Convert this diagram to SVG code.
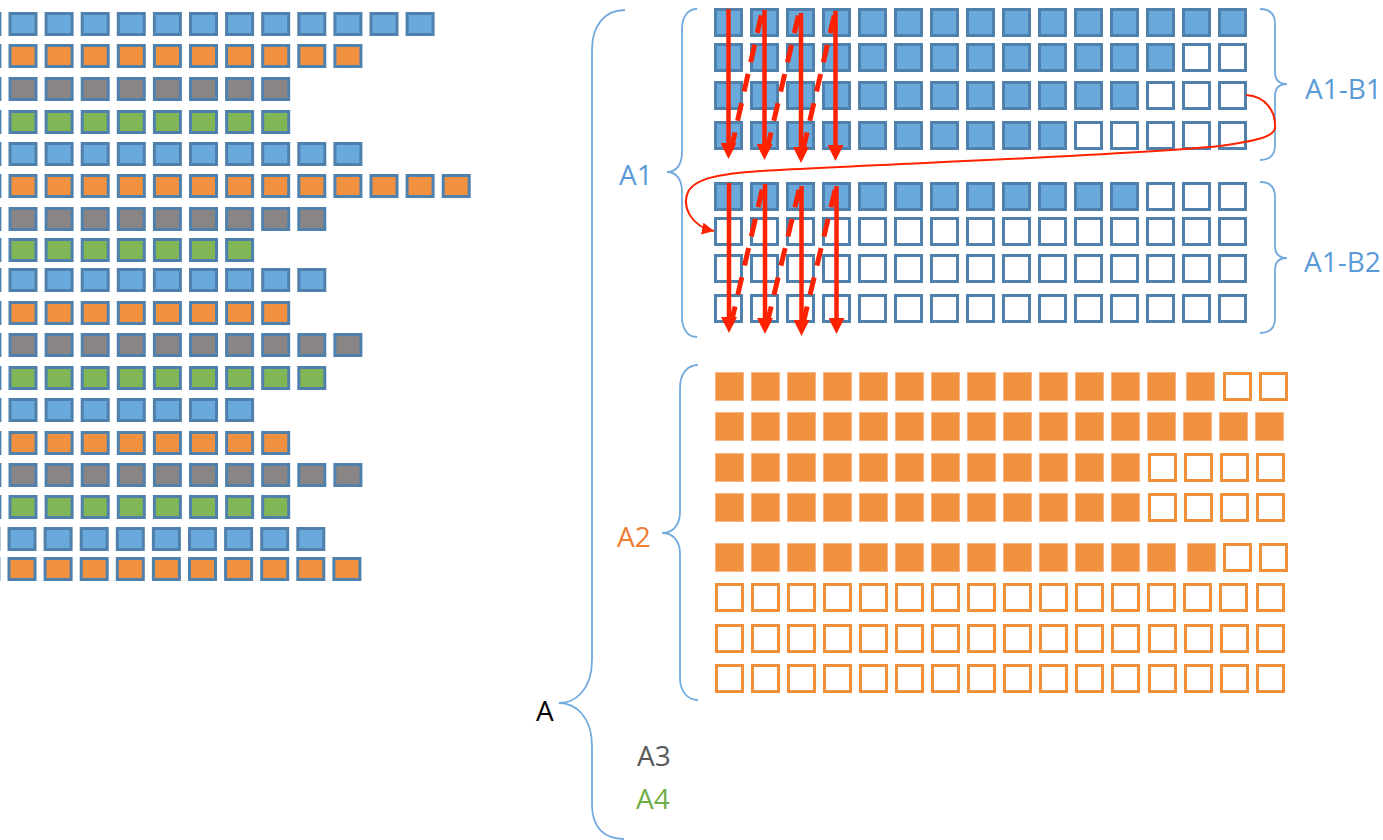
<svg xmlns="http://www.w3.org/2000/svg" xmlns:xlink="http://www.w3.org/1999/xlink" width="1383" height="840" viewBox="0 0 1383 840">
  <style>
    .lbl { font-family: "Open Sans", "Liberation Sans", sans-serif; font-size: 28px; }
    .brace { fill: none; stroke: #72aade; stroke-width: 1.8; }
    .flow { fill: none; stroke: #ff2200; stroke-width: 4.5; }
    .flow-dash { fill: none; stroke: #ff2200; stroke-width: 5; stroke-dasharray: 18 12; }
    .jump { fill: none; stroke: #ff2200; stroke-width: 2; }
  </style>
  <defs>
    <!-- left list cell (outer 29x24) -->
    <rect id="lc" x="1.5" y="1.5" width="26" height="21" stroke="#4f81ac" stroke-width="3"/>
    <!-- blue block cell (outer 29x29); fill comes from the parent group -->
    <rect id="bc" x="1.5" y="1.5" width="26" height="26" stroke="#4f81ac" stroke-width="3"/>
    <!-- orange cells -->
    <rect id="of" x="0.5" y="0.5" width="28" height="28" fill="#f29241" stroke="#f6b687" stroke-width="1"/>
    <rect id="oe" x="1.5" y="1.5" width="26" height="26" fill="#fff" stroke="#f0903a" stroke-width="3"/>
    <marker id="head" viewBox="0 0 16 16" refX="4" refY="8" markerWidth="16" markerHeight="16" orient="auto" markerUnits="userSpaceOnUse">
      <path d="M0,0 L16,8 L0,16 z" fill="#ff2200"/>
    </marker>
    <marker id="head-s" viewBox="0 0 12 12" refX="12" refY="6" markerWidth="12" markerHeight="12" orient="auto" markerUnits="userSpaceOnUse">
      <path d="M0,0 L12,6 L0,12 z" fill="#ff2200"/>
    </marker>
  </defs>
  <rect width="1383" height="840" fill="#fff"/>

  <!-- left list: 18 rows cycling blue / orange / gray / green -->
  <g id="left-list">
    <g transform="translate(0,12)" fill="#69a9dc">
      <use href="#lc" x="-27.6"/><use href="#lc" x="8.5"/><use href="#lc" x="44.6"/><use href="#lc" x="80.7"/><use href="#lc" x="116.8"/><use href="#lc" x="152.9"/><use href="#lc" x="189"/><use href="#lc" x="225.1"/><use href="#lc" x="261.2"/><use href="#lc" x="297.3"/><use href="#lc" x="333.4"/><use href="#lc" x="369.5"/><use href="#lc" x="405.6"/>
    </g>
    <g transform="translate(0,44)" fill="#f29241">
      <use href="#lc" x="-27.6"/><use href="#lc" x="8.5"/><use href="#lc" x="44.6"/><use href="#lc" x="80.7"/><use href="#lc" x="116.8"/><use href="#lc" x="152.9"/><use href="#lc" x="189"/><use href="#lc" x="225.1"/><use href="#lc" x="261.2"/><use href="#lc" x="297.3"/><use href="#lc" x="333.4"/>
    </g>
    <g transform="translate(0,77)" fill="#898584">
      <use href="#lc" x="-27.6"/><use href="#lc" x="8.5"/><use href="#lc" x="44.6"/><use href="#lc" x="80.7"/><use href="#lc" x="116.8"/><use href="#lc" x="152.9"/><use href="#lc" x="189"/><use href="#lc" x="225.1"/><use href="#lc" x="261.2"/>
    </g>
    <g transform="translate(0,110)" fill="#80b656">
      <use href="#lc" x="-27.6"/><use href="#lc" x="8.5"/><use href="#lc" x="44.6"/><use href="#lc" x="80.7"/><use href="#lc" x="116.8"/><use href="#lc" x="152.9"/><use href="#lc" x="189"/><use href="#lc" x="225.1"/><use href="#lc" x="261.2"/>
    </g>
    <g transform="translate(0,142)" fill="#69a9dc">
      <use href="#lc" x="-27.6"/><use href="#lc" x="8.5"/><use href="#lc" x="44.6"/><use href="#lc" x="80.7"/><use href="#lc" x="116.8"/><use href="#lc" x="152.9"/><use href="#lc" x="189"/><use href="#lc" x="225.1"/><use href="#lc" x="261.2"/><use href="#lc" x="297.3"/><use href="#lc" x="333.4"/>
    </g>
    <g transform="translate(0,174)" fill="#f29241">
      <use href="#lc" x="-27.6"/><use href="#lc" x="8.5"/><use href="#lc" x="44.6"/><use href="#lc" x="80.7"/><use href="#lc" x="116.8"/><use href="#lc" x="152.9"/><use href="#lc" x="189"/><use href="#lc" x="225.1"/><use href="#lc" x="261.2"/><use href="#lc" x="297.3"/><use href="#lc" x="333.4"/><use href="#lc" x="369.5"/><use href="#lc" x="405.6"/><use href="#lc" x="441.7"/>
    </g>
    <g transform="translate(0,207)" fill="#898584">
      <use href="#lc" x="-27.6"/><use href="#lc" x="8.5"/><use href="#lc" x="44.6"/><use href="#lc" x="80.7"/><use href="#lc" x="116.8"/><use href="#lc" x="152.9"/><use href="#lc" x="189"/><use href="#lc" x="225.1"/><use href="#lc" x="261.2"/><use href="#lc" x="297.3"/>
    </g>
    <g transform="translate(0,238)" fill="#80b656">
      <use href="#lc" x="-27.6"/><use href="#lc" x="8.5"/><use href="#lc" x="44.6"/><use href="#lc" x="80.7"/><use href="#lc" x="116.8"/><use href="#lc" x="152.9"/><use href="#lc" x="189"/><use href="#lc" x="225.1"/>
    </g>
    <g transform="translate(0,268)" fill="#69a9dc">
      <use href="#lc" x="-27.6"/><use href="#lc" x="8.5"/><use href="#lc" x="44.6"/><use href="#lc" x="80.7"/><use href="#lc" x="116.8"/><use href="#lc" x="152.9"/><use href="#lc" x="189"/><use href="#lc" x="225.1"/><use href="#lc" x="261.2"/><use href="#lc" x="297.3"/>
    </g>
    <g transform="translate(0,301)" fill="#f29241">
      <use href="#lc" x="-27.6"/><use href="#lc" x="8.5"/><use href="#lc" x="44.6"/><use href="#lc" x="80.7"/><use href="#lc" x="116.8"/><use href="#lc" x="152.9"/><use href="#lc" x="189"/><use href="#lc" x="225.1"/><use href="#lc" x="261.2"/>
    </g>
    <g transform="translate(0,333)" fill="#898584">
      <use href="#lc" x="-27.6"/><use href="#lc" x="8.5"/><use href="#lc" x="44.6"/><use href="#lc" x="80.7"/><use href="#lc" x="116.8"/><use href="#lc" x="152.9"/><use href="#lc" x="189"/><use href="#lc" x="225.1"/><use href="#lc" x="261.2"/><use href="#lc" x="297.3"/><use href="#lc" x="333.4"/>
    </g>
    <g transform="translate(0,366)" fill="#80b656">
      <use href="#lc" x="-27.6"/><use href="#lc" x="8.5"/><use href="#lc" x="44.6"/><use href="#lc" x="80.7"/><use href="#lc" x="116.8"/><use href="#lc" x="152.9"/><use href="#lc" x="189"/><use href="#lc" x="225.1"/><use href="#lc" x="261.2"/><use href="#lc" x="297.3"/>
    </g>
    <g transform="translate(0,398)" fill="#69a9dc">
      <use href="#lc" x="-27.6"/><use href="#lc" x="8.5"/><use href="#lc" x="44.6"/><use href="#lc" x="80.7"/><use href="#lc" x="116.8"/><use href="#lc" x="152.9"/><use href="#lc" x="189"/><use href="#lc" x="225.1"/>
    </g>
    <g transform="translate(0,431)" fill="#f29241">
      <use href="#lc" x="-27.6"/><use href="#lc" x="8.5"/><use href="#lc" x="44.6"/><use href="#lc" x="80.7"/><use href="#lc" x="116.8"/><use href="#lc" x="152.9"/><use href="#lc" x="189"/><use href="#lc" x="225.1"/><use href="#lc" x="261.2"/>
    </g>
    <g transform="translate(0,463)" fill="#898584">
      <use href="#lc" x="-27.6"/><use href="#lc" x="8.5"/><use href="#lc" x="44.6"/><use href="#lc" x="80.7"/><use href="#lc" x="116.8"/><use href="#lc" x="152.9"/><use href="#lc" x="189"/><use href="#lc" x="225.1"/><use href="#lc" x="261.2"/><use href="#lc" x="297.3"/><use href="#lc" x="333.4"/>
    </g>
    <g transform="translate(0,495)" fill="#80b656">
      <use href="#lc" x="-27.6"/><use href="#lc" x="8.5"/><use href="#lc" x="44.6"/><use href="#lc" x="80.7"/><use href="#lc" x="116.8"/><use href="#lc" x="152.9"/><use href="#lc" x="189"/><use href="#lc" x="225.1"/><use href="#lc" x="261.2"/>
    </g>
    <g transform="translate(-1,527)" fill="#69a9dc">
      <use href="#lc" x="-27.6"/><use href="#lc" x="8.5"/><use href="#lc" x="44.6"/><use href="#lc" x="80.7"/><use href="#lc" x="116.8"/><use href="#lc" x="152.9"/><use href="#lc" x="189"/><use href="#lc" x="225.1"/><use href="#lc" x="261.2"/><use href="#lc" x="297.3"/>
    </g>
    <g transform="translate(-1,557)" fill="#f29241">
      <use href="#lc" x="-27.6"/><use href="#lc" x="8.5"/><use href="#lc" x="44.6"/><use href="#lc" x="80.7"/><use href="#lc" x="116.8"/><use href="#lc" x="152.9"/><use href="#lc" x="189"/><use href="#lc" x="225.1"/><use href="#lc" x="261.2"/><use href="#lc" x="297.3"/><use href="#lc" x="333.4"/>
    </g>
  </g>

  <!-- block A1-B1 -->
  <g id="a1-b1">
    <g fill="#69a9dc">
      <g transform="translate(0,8)">
        <use href="#bc" x="714"/><use href="#bc" x="750"/><use href="#bc" x="786"/><use href="#bc" x="822"/><use href="#bc" x="858"/><use href="#bc" x="894"/><use href="#bc" x="930"/><use href="#bc" x="966"/><use href="#bc" x="1002"/><use href="#bc" x="1038"/><use href="#bc" x="1074"/><use href="#bc" x="1110"/><use href="#bc" x="1146"/><use href="#bc" x="1182"/><use href="#bc" x="1218"/>
      </g>
      <g transform="translate(0,43)">
        <use href="#bc" x="714"/><use href="#bc" x="750"/><use href="#bc" x="786"/><use href="#bc" x="822"/><use href="#bc" x="858"/><use href="#bc" x="894"/><use href="#bc" x="930"/><use href="#bc" x="966"/><use href="#bc" x="1002"/><use href="#bc" x="1038"/><use href="#bc" x="1074"/><use href="#bc" x="1110"/><use href="#bc" x="1146"/>
      </g>
      <g transform="translate(0,81)">
        <use href="#bc" x="714"/><use href="#bc" x="750"/><use href="#bc" x="786"/><use href="#bc" x="822"/><use href="#bc" x="858"/><use href="#bc" x="894"/><use href="#bc" x="930"/><use href="#bc" x="966"/><use href="#bc" x="1002"/><use href="#bc" x="1038"/><use href="#bc" x="1074"/><use href="#bc" x="1110"/>
      </g>
      <g transform="translate(0,121)">
        <use href="#bc" x="714"/><use href="#bc" x="750"/><use href="#bc" x="786"/><use href="#bc" x="822"/><use href="#bc" x="858"/><use href="#bc" x="894"/><use href="#bc" x="930"/><use href="#bc" x="966"/><use href="#bc" x="1002"/><use href="#bc" x="1038"/>
      </g>
    </g>
    <g fill="#fff">
      <use href="#bc" x="1182" y="43"/><use href="#bc" x="1218" y="43"/>
      <use href="#bc" x="1146" y="81"/><use href="#bc" x="1182" y="81"/><use href="#bc" x="1218" y="81"/>
      <use href="#bc" x="1074" y="121"/><use href="#bc" x="1110" y="121"/><use href="#bc" x="1146" y="121"/><use href="#bc" x="1182" y="121"/><use href="#bc" x="1218" y="121"/>
    </g>
  </g>

  <!-- block A1-B2 -->
  <g id="a1-b2">
    <g fill="#69a9dc" transform="translate(0,182)">
      <use href="#bc" x="714"/><use href="#bc" x="750"/><use href="#bc" x="786"/><use href="#bc" x="822"/><use href="#bc" x="858"/><use href="#bc" x="894"/><use href="#bc" x="930"/><use href="#bc" x="966"/><use href="#bc" x="1002"/><use href="#bc" x="1038"/><use href="#bc" x="1074"/><use href="#bc" x="1110"/>
    </g>
    <g fill="#fff">
      <g transform="translate(0,182)">
        <use href="#bc" x="1146"/><use href="#bc" x="1182"/><use href="#bc" x="1218"/>
      </g>
      <g transform="translate(0,217)">
        <use href="#bc" x="714"/><use href="#bc" x="750"/><use href="#bc" x="786"/><use href="#bc" x="822"/><use href="#bc" x="858"/><use href="#bc" x="894"/><use href="#bc" x="930"/><use href="#bc" x="966"/><use href="#bc" x="1002"/><use href="#bc" x="1038"/><use href="#bc" x="1074"/><use href="#bc" x="1110"/><use href="#bc" x="1146"/><use href="#bc" x="1182"/><use href="#bc" x="1218"/>
      </g>
      <g transform="translate(0,254)">
        <use href="#bc" x="714"/><use href="#bc" x="750"/><use href="#bc" x="786"/><use href="#bc" x="822"/><use href="#bc" x="858"/><use href="#bc" x="894"/><use href="#bc" x="930"/><use href="#bc" x="966"/><use href="#bc" x="1002"/><use href="#bc" x="1038"/><use href="#bc" x="1074"/><use href="#bc" x="1110"/><use href="#bc" x="1146"/><use href="#bc" x="1182"/><use href="#bc" x="1218"/>
      </g>
      <g transform="translate(0,294)">
        <use href="#bc" x="714"/><use href="#bc" x="750"/><use href="#bc" x="786"/><use href="#bc" x="822"/><use href="#bc" x="858"/><use href="#bc" x="894"/><use href="#bc" x="930"/><use href="#bc" x="966"/><use href="#bc" x="1002"/><use href="#bc" x="1038"/><use href="#bc" x="1074"/><use href="#bc" x="1110"/><use href="#bc" x="1146"/><use href="#bc" x="1182"/><use href="#bc" x="1218"/>
      </g>
    </g>
  </g>

  <!-- block A2 -->
  <g id="a2">
    <g transform="translate(0,372)">
      <use href="#of" x="715"/><use href="#of" x="751"/><use href="#of" x="787"/><use href="#of" x="823"/><use href="#of" x="859"/><use href="#of" x="895"/><use href="#of" x="931"/><use href="#of" x="967"/><use href="#of" x="1003"/><use href="#of" x="1039"/><use href="#of" x="1075"/><use href="#of" x="1111"/><use href="#of" x="1147"/><use href="#of" x="1186"/><use href="#oe" x="1223"/><use href="#oe" x="1259"/>
    </g>
    <g transform="translate(0,412)">
      <use href="#of" x="715"/><use href="#of" x="751"/><use href="#of" x="787"/><use href="#of" x="823"/><use href="#of" x="859"/><use href="#of" x="895"/><use href="#of" x="931"/><use href="#of" x="967"/><use href="#of" x="1003"/><use href="#of" x="1039"/><use href="#of" x="1075"/><use href="#of" x="1111"/><use href="#of" x="1147"/><use href="#of" x="1183"/><use href="#of" x="1219"/><use href="#of" x="1255"/>
    </g>
    <g transform="translate(0,453)">
      <use href="#of" x="715"/><use href="#of" x="751"/><use href="#of" x="787"/><use href="#of" x="823"/><use href="#of" x="859"/><use href="#of" x="895"/><use href="#of" x="931"/><use href="#of" x="967"/><use href="#of" x="1003"/><use href="#of" x="1039"/><use href="#of" x="1075"/><use href="#of" x="1111"/><use href="#oe" x="1148"/><use href="#oe" x="1184"/><use href="#oe" x="1220"/><use href="#oe" x="1256"/>
    </g>
    <g transform="translate(0,493)">
      <use href="#of" x="715"/><use href="#of" x="751"/><use href="#of" x="787"/><use href="#of" x="823"/><use href="#of" x="859"/><use href="#of" x="895"/><use href="#of" x="931"/><use href="#of" x="967"/><use href="#of" x="1003"/><use href="#of" x="1039"/><use href="#of" x="1075"/><use href="#of" x="1111"/><use href="#oe" x="1148"/><use href="#oe" x="1184"/><use href="#oe" x="1220"/><use href="#oe" x="1256"/>
    </g>
    <g transform="translate(0,543)">
      <use href="#of" x="715"/><use href="#of" x="751"/><use href="#of" x="787"/><use href="#of" x="823"/><use href="#of" x="859"/><use href="#of" x="895"/><use href="#of" x="931"/><use href="#of" x="967"/><use href="#of" x="1003"/><use href="#of" x="1039"/><use href="#of" x="1075"/><use href="#of" x="1111"/><use href="#of" x="1147"/><use href="#of" x="1187"/><use href="#oe" x="1223"/><use href="#oe" x="1259"/>
    </g>
    <g transform="translate(0,583)">
      <use href="#oe" x="715"/><use href="#oe" x="751"/><use href="#oe" x="787"/><use href="#oe" x="823"/><use href="#oe" x="859"/><use href="#oe" x="895"/><use href="#oe" x="931"/><use href="#oe" x="967"/><use href="#oe" x="1003"/><use href="#oe" x="1039"/><use href="#oe" x="1075"/><use href="#oe" x="1111"/><use href="#oe" x="1147"/><use href="#oe" x="1183"/><use href="#oe" x="1219"/><use href="#oe" x="1256"/>
    </g>
    <g transform="translate(0,624)">
      <use href="#oe" x="715"/><use href="#oe" x="751"/><use href="#oe" x="787"/><use href="#oe" x="823"/><use href="#oe" x="859"/><use href="#oe" x="895"/><use href="#oe" x="931"/><use href="#oe" x="967"/><use href="#oe" x="1003"/><use href="#oe" x="1039"/><use href="#oe" x="1075"/><use href="#oe" x="1111"/><use href="#oe" x="1148"/><use href="#oe" x="1184"/><use href="#oe" x="1220"/><use href="#oe" x="1256"/>
    </g>
    <g transform="translate(0,664)">
      <use href="#oe" x="715"/><use href="#oe" x="751"/><use href="#oe" x="787"/><use href="#oe" x="823"/><use href="#oe" x="859"/><use href="#oe" x="895"/><use href="#oe" x="931"/><use href="#oe" x="967"/><use href="#oe" x="1003"/><use href="#oe" x="1039"/><use href="#oe" x="1075"/><use href="#oe" x="1111"/><use href="#oe" x="1148"/><use href="#oe" x="1184"/><use href="#oe" x="1220"/><use href="#oe" x="1256"/>
    </g>
  </g>

  <!-- braces -->
  <g id="braces" class="brace">
    <path id="brace-a" d="M625,10 C605,10 592,25 592,50 L592,660 C592,690 575,703 559,703 C575,703 592,716 592,746 L592,805 C592,828 605,839 624,839"/>
    <path id="brace-a1" d="M697,9 C688,9 682,16 682,30 L682,152 C682,165 676,172 667,172 C676,172 682,179 682,192 L682,316 C682,330 688,337 697,337"/>
    <path id="brace-a2" d="M698,365 C688,365 680,373 680,388 L680,512 C680,525 673,533 662,533 C673,533 680,541 680,554 L680,678 C680,692 688,700 698,700"/>
    <path id="brace-b1" d="M1260,9 C1270,9 1275,14 1275,24 L1275,72 C1275,80 1279,84 1287,84 C1279,84 1275,88 1275,96 L1275,145 C1275,155 1270,160 1260,160"/>
    <path id="brace-b2" d="M1260,182 C1270,182 1275,187 1275,197 L1275,246 C1275,254 1279,258 1287,258 C1279,258 1275,262 1275,270 L1275,318 C1275,328 1270,333 1260,333"/>
  </g>

  <!-- labels -->
  <g id="labels" class="lbl">
    <text x="536" y="721" fill="#000">A</text>
    <text x="619" y="185" fill="#5b9bd5">A1</text>
    <text x="617" y="547" fill="#ed7d31">A2</text>
    <text x="637" y="766" fill="#595959">A3</text>
    <text x="636" y="809" fill="#70ad47">A4</text>
    <text x="1305" y="99" fill="#5b9bd5">A1-B1</text>
    <text x="1304" y="272" fill="#5b9bd5">A1-B2</text>
  </g>

  <!-- traversal order connectors -->
  <g id="connectors">
    <line class="flow" x1="728.5" y1="9" x2="728.5" y2="147" marker-end="url(#head)"/>
    <line class="flow" x1="764.5" y1="10" x2="764.5" y2="148" marker-end="url(#head)"/>
    <line class="flow" x1="801" y1="13" x2="801" y2="151" marker-end="url(#head)"/>
    <line class="flow" x1="835.5" y1="11" x2="835.5" y2="149" marker-end="url(#head)"/>
    <line class="flow-dash" x1="731" y1="150" x2="762" y2="12"/>
    <line class="flow-dash" x1="767" y1="150" x2="799" y2="13"/>
    <line class="flow-dash" x1="803" y1="150" x2="835" y2="12"/>

    <line class="flow" x1="729" y1="183" x2="729" y2="321" marker-end="url(#head)"/>
    <line class="flow" x1="765" y1="184" x2="765" y2="322" marker-end="url(#head)"/>
    <line class="flow" x1="801.5" y1="186" x2="801.5" y2="324" marker-end="url(#head)"/>
    <line class="flow" x1="836.5" y1="186" x2="836.5" y2="322" marker-end="url(#head)"/>
    <line class="flow-dash" x1="731" y1="324" x2="763" y2="186"/>
    <line class="flow-dash" x1="767" y1="324" x2="800" y2="186"/>
    <line class="flow-dash" x1="803" y1="324" x2="836" y2="186"/>

    <path class="jump" d="M1246,95 C1266,96 1276,112 1275,128 C1274,137 1255,141 1220,146 C1120,156 900,163 760,171 C720,174 695,178 688,192 C682,206 690,226 714,231" marker-end="url(#head-s)"/>
  </g>
</svg>
